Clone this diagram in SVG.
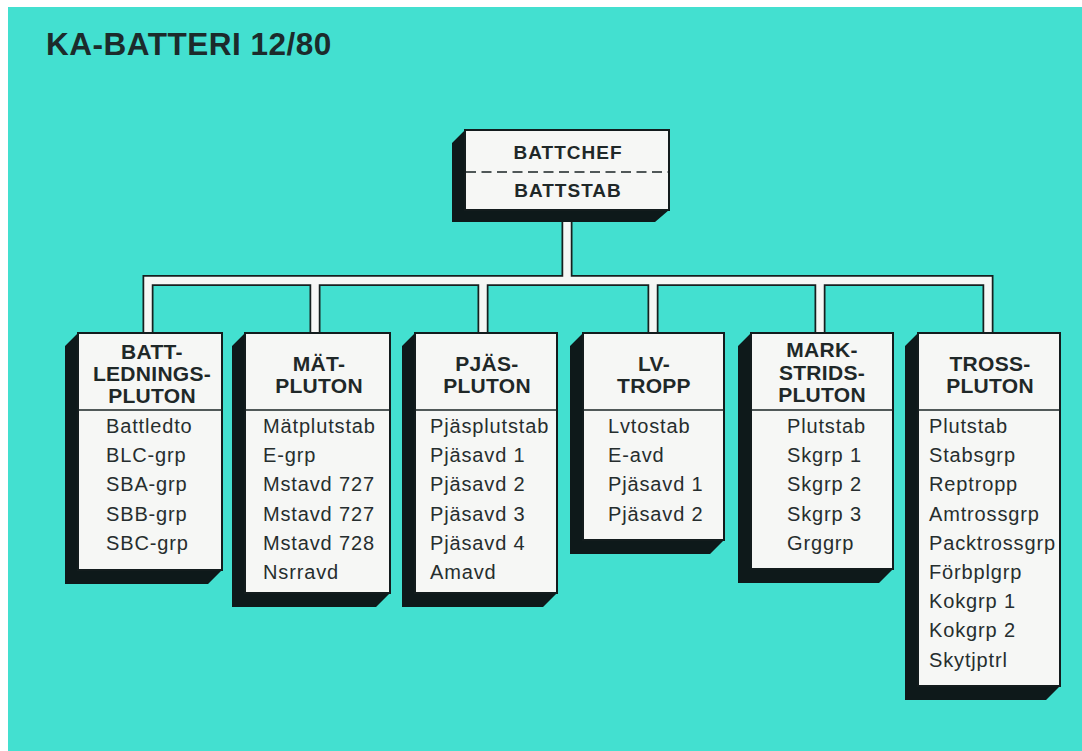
<svg xmlns="http://www.w3.org/2000/svg" width="1082" height="751" viewBox="0 0 1082 751">
<defs>
<style>
.bg{fill:#43e0d0}
.shadow{fill:#0e191a}
.box{fill:#f6f7f5;stroke:#131c1d;stroke-width:2}
.div{stroke:#1a2424;stroke-width:1.5;fill:none}
.dash{stroke:#1a2424;stroke-width:1.5;stroke-dasharray:10 5.5;fill:none}
.conn-o{fill:none;stroke:#16201f;stroke-width:11;stroke-linejoin:miter}
.conn-i{fill:none;stroke:#f6f7f5;stroke-width:7.5;stroke-linejoin:miter}
.title{font-family:"Liberation Sans",Arial,sans-serif;font-weight:bold;font-size:31.5px;letter-spacing:0.5px;fill:#1c2b2b}
.top{font-family:"Liberation Sans",Arial,sans-serif;font-weight:bold;font-size:19px;letter-spacing:1px;fill:#1f2828;text-anchor:middle}
.hd{font-family:"Liberation Sans",Arial,sans-serif;font-weight:bold;font-size:21px;letter-spacing:0.3px;fill:#1f2828;text-anchor:middle}
.it{font-family:"Liberation Sans",Arial,sans-serif;font-size:20px;letter-spacing:0.85px;fill:#262e2e}
</style>
</defs>
<rect x="0" y="0" width="1082" height="751" fill="#ffffff"/>
<rect class="bg" x="8" y="7" width="1074" height="744"/>
<text class="title" x="46" y="55">KA-BATTERI 12/80</text>

<g id="connectors">
<path class="conn-o" d="M567,215 V280.5 M148,338 V280.5 H988 V338 M315,280.5 V338 M483,280.5 V338 M653,280.5 V338 M820,280.5 V338"/>
<path class="conn-i" d="M567,215 V280.5 M148,338 V280.5 H988 V338 M315,280.5 V338 M483,280.5 V338 M653,280.5 V338 M820,280.5 V338"/>
</g>

<g id="battchef">
<polygon class="shadow" points="465,130 452,143 452,222 655,222 669,210 465,210"/>
<rect class="box" x="465" y="130" width="204" height="80"/>
<line class="dash" x1="466" y1="172" x2="668" y2="172"/>
<text class="top" x="568" y="159">BATTCHEF</text>
<text class="top" x="568" y="197">BATTSTAB</text>
</g>

<g id="battledningspluton">
<polygon class="shadow" points="78,333 65,346 65,584 208,584 222,570 78,570"/>
<rect class="box" x="78" y="333" width="144" height="237"/>
<line class="div" x1="78" y1="410" x2="222" y2="410"/>
<text class="hd" x="152" y="359">BATT-</text>
<text class="hd" x="152" y="381">LEDNINGS-</text>
<text class="hd" x="152" y="403">PLUTON</text>
<text class="it" x="106" y="433">Battledto</text>
<text class="it" x="106" y="462.2">BLC-grp</text>
<text class="it" x="106" y="491.4">SBA-grp</text>
<text class="it" x="106" y="520.6">SBB-grp</text>
<text class="it" x="106" y="549.8">SBC-grp</text>
</g>

<g id="matpluton">
<polygon class="shadow" points="245,333 232,346 232,607 376,607 390,593 245,593"/>
<rect class="box" x="245" y="333" width="145" height="260"/>
<line class="div" x1="245" y1="410" x2="390" y2="410"/>
<text class="hd" x="319" y="371">MÄT-</text>
<text class="hd" x="319" y="393">PLUTON</text>
<text class="it" x="263" y="433">Mätplutstab</text>
<text class="it" x="263" y="462.2">E-grp</text>
<text class="it" x="263" y="491.4">Mstavd 727</text>
<text class="it" x="263" y="520.6">Mstavd 727</text>
<text class="it" x="263" y="549.8">Mstavd 728</text>
<text class="it" x="263" y="579">Nsrravd</text>
</g>

<g id="pjaspluton">
<polygon class="shadow" points="415,333 402,346 402,607 543,607 557,593 415,593"/>
<rect class="box" x="415" y="333" width="142" height="260"/>
<line class="div" x1="415" y1="410" x2="557" y2="410"/>
<text class="hd" x="487" y="371">PJÄS-</text>
<text class="hd" x="487" y="393">PLUTON</text>
<text class="it" x="430" y="433">Pjäsplutstab</text>
<text class="it" x="430" y="462.2">Pjäsavd 1</text>
<text class="it" x="430" y="491.4">Pjäsavd 2</text>
<text class="it" x="430" y="520.6">Pjäsavd 3</text>
<text class="it" x="430" y="549.8">Pjäsavd 4</text>
<text class="it" x="430" y="579">Amavd</text>
</g>

<g id="lvtropp">
<polygon class="shadow" points="583,333 570,346 570,554 710,554 724,540 583,540"/>
<rect class="box" x="583" y="333" width="141" height="207"/>
<line class="div" x1="583" y1="410" x2="724" y2="410"/>
<text class="hd" x="654" y="371">LV-</text>
<text class="hd" x="654" y="393">TROPP</text>
<text class="it" x="608" y="433">Lvtostab</text>
<text class="it" x="608" y="462.2">E-avd</text>
<text class="it" x="608" y="491.4">Pjäsavd 1</text>
<text class="it" x="608" y="520.6">Pjäsavd 2</text>
</g>

<g id="markstridspluton">
<polygon class="shadow" points="751,333 738,346 738,583 879,583 893,569 751,569"/>
<rect class="box" x="751" y="333" width="142" height="236"/>
<line class="div" x1="751" y1="410" x2="893" y2="410"/>
<text class="hd" x="822" y="357">MARK-</text>
<text class="hd" x="822" y="380">STRIDS-</text>
<text class="hd" x="822" y="402">PLUTON</text>
<text class="it" x="787" y="433">Plutstab</text>
<text class="it" x="787" y="462.2">Skgrp 1</text>
<text class="it" x="787" y="491.4">Skgrp 2</text>
<text class="it" x="787" y="520.6">Skgrp 3</text>
<text class="it" x="787" y="549.8">Grggrp</text>
</g>

<g id="trosspluton">
<polygon class="shadow" points="918,333 905,346 905,700 1046,700 1060,686 918,686"/>
<rect class="box" x="918" y="333" width="142" height="353"/>
<line class="div" x1="918" y1="410" x2="1060" y2="410"/>
<text class="hd" x="990" y="371">TROSS-</text>
<text class="hd" x="990" y="393">PLUTON</text>
<text class="it" x="929" y="433">Plutstab</text>
<text class="it" x="929" y="462.2">Stabsgrp</text>
<text class="it" x="929" y="491.4">Reptropp</text>
<text class="it" x="929" y="520.6">Amtrossgrp</text>
<text class="it" x="929" y="549.8">Packtrossgrp</text>
<text class="it" x="929" y="579">Förbplgrp</text>
<text class="it" x="929" y="608.2">Kokgrp 1</text>
<text class="it" x="929" y="637.4">Kokgrp 2</text>
<text class="it" x="929" y="666.6">Skytjptrl</text>
</g>
</svg>
